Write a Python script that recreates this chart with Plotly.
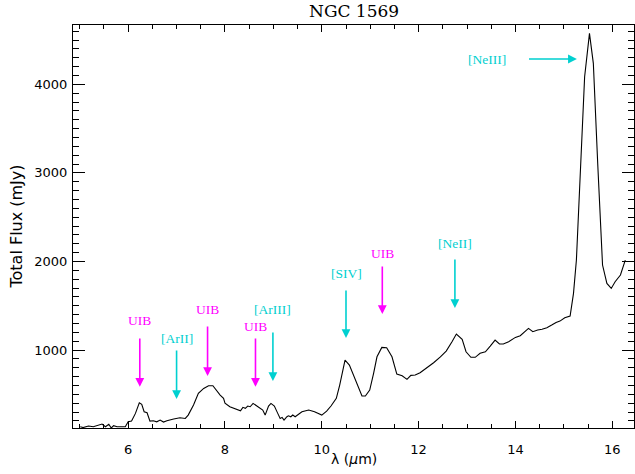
import plotly.graph_objects as go

# Spectrum (wavelength in micron, flux in mJy)
wavelength = [5.01, 5.07, 5.18, 5.28, 5.46, 5.53, 5.60, 5.65, 5.70, 5.77, 5.94, 6.00, 6.07, 6.15, 6.23,
              6.28, 6.33, 6.39, 6.45, 6.52, 6.59, 6.66, 6.73, 6.80, 6.94, 7.07, 7.18, 7.24, 7.35, 7.45,
              7.56, 7.66, 7.75, 7.87, 7.90, 7.97, 8.00, 8.10, 8.25, 8.32, 8.37, 8.42, 8.47, 8.52, 8.58,
              8.66, 8.73, 8.78, 8.83, 8.90, 8.95, 9.02, 9.09, 9.14, 9.18, 9.22, 9.28, 9.31, 9.36, 9.40,
              9.45, 9.49, 9.59, 9.73, 9.85, 10.00, 10.10, 10.19, 10.30, 10.37, 10.48, 10.57, 10.69, 10.83,
              10.90, 10.99, 11.07, 11.14, 11.24, 11.34, 11.45, 11.55, 11.66, 11.76, 11.84, 11.93, 12.03,
              12.17, 12.31, 12.45, 12.57, 12.69, 12.78, 12.90, 12.98, 13.08, 13.17, 13.27, 13.38, 13.48,
              13.58, 13.67, 13.75, 13.86, 14.00, 14.10, 14.18, 14.27, 14.36, 14.46, 14.55, 14.65, 14.75,
              14.84, 14.92, 15.02, 15.13, 15.20, 15.26, 15.34, 15.43, 15.53, 15.61, 15.70, 15.80, 15.89,
              15.98, 16.06, 16.17, 16.27]
flux = [134, 125, 142, 134, 165, 134, 162, 120, 147, 134, 134, 190, 198, 285, 405,
        387, 303, 292, 198, 202, 190, 210, 187, 202, 221, 235, 228, 266, 379, 511,
        567, 597, 597, 510, 492, 455, 400, 360, 323, 315, 353, 342, 368, 360, 398,
        368, 342, 323, 266, 368, 398, 368, 285, 228, 240, 210, 247, 258, 247, 266,
        247, 266, 303, 323, 303, 266, 311, 368, 455, 605, 887, 831, 661, 481,
        481, 549, 737, 924, 1030, 1026, 924, 729, 710, 669, 714, 718, 744,
        800, 857, 924, 989, 1094, 1181, 1121, 981, 918, 918, 963, 981, 1045,
        1113, 1068, 1068, 1094, 1143, 1162, 1196, 1245, 1207, 1226, 1234, 1252, 1282,
        1312, 1327, 1365, 1384, 1640, 2016, 3032, 4086, 4575, 4237, 3108, 1960, 1752,
        1696, 1771, 1847, 2016]

# Feature labels (vertical arrows)
feature_labels = ["UIB", "[ArII]", "UIB", "UIB", "[ArIII]", "[SIV]", "UIB", "[NeII]"]
feature_wavelength = [6.24, 7.0, 7.64, 8.63, 8.99, 10.5, 11.25, 12.75]
feature_kind = ["uib", "ion", "uib", "uib", "ion", "ion", "uib", "ion"]
arrow_tip = [586, 447, 706, 586, 650, 1135, 1406, 1474]
arrow_tail = [1147, 1011, 1282, 1147, 1215, 1689, 1960, 2039]
label_y = [1331, 1135, 1463, 1271, 1463, 1869, 2095, 2208]

# [NeIII] horizontal arrow
neiii_label = "[NeIII]"
neiii_tail_x = 14.25
neiii_tip_x = 15.27
neiii_y = 4286
neiii_label_x = 13.41

MAGENTA = "#ff00ff"
CYAN = "#00d0d0"
kind_color = {"uib": MAGENTA, "ion": CYAN}

fig = go.Figure()
fig.add_trace(go.Scatter(x=wavelength, y=flux, mode="lines",
                         line=dict(color="black", width=1.1), hoverinfo="skip"))

ann_font = dict(family="Liberation Serif, Times New Roman, serif", size=13.5)
annotations = []
for lab, wl, kind, tip, tail, ly in zip(feature_labels, feature_wavelength, feature_kind,
                                         arrow_tip, arrow_tail, label_y):
    c = kind_color[kind]
    annotations.append(dict(x=wl, y=tip, ax=wl, ay=tail, xref="x", yref="y", axref="x", ayref="y",
                            text="", showarrow=True, arrowhead=2, arrowsize=1.1, arrowwidth=1.6,
                            arrowcolor=c, standoff=0, startstandoff=0))
    annotations.append(dict(x=wl, y=ly, xref="x", yref="y", text=lab, showarrow=False,
                            font=dict(color=c, **ann_font), xanchor="center", yanchor="middle"))

annotations.append(dict(x=neiii_tip_x, y=neiii_y, ax=neiii_tail_x, ay=neiii_y, xref="x", yref="y",
                        axref="x", ayref="y", text="", showarrow=True, arrowhead=2, arrowsize=1.1,
                        arrowwidth=1.6, arrowcolor=CYAN, standoff=0, startstandoff=0))
annotations.append(dict(x=neiii_label_x, y=neiii_y, xref="x", yref="y", text=neiii_label,
                        showarrow=False, font=dict(color=CYAN, **ann_font),
                        xanchor="center", yanchor="middle"))

# Titles
annotations.append(dict(x=0.5, y=1, xref="paper", yref="paper", text="NGC 1569", showarrow=False,
                        xanchor="center", yanchor="bottom", yshift=2,
                        font=dict(family="DejaVu Serif, serif", size=17, color="black")))
annotations.append(dict(x=0.5, y=0, xref="paper", yref="paper", text="λ (<i>µ</i>m)", showarrow=False,
                        xanchor="center", yanchor="top", yshift=-21,
                        font=dict(family="DejaVu Sans, sans-serif", size=14, color="black")))
annotations.append(dict(x=0, y=0.5, xref="paper", yref="paper", text="Total Flux (mJy)", showarrow=False,
                        xanchor="center", yanchor="middle", xshift=-57, textangle=-90,
                        font=dict(family="DejaVu Sans, sans-serif", size=16, color="black")))

tick_font = dict(family="DejaVu Sans, sans-serif", size=13, color="black")
fig.update_layout(
    width=635, height=474,
    margin=dict(l=73, r=1, t=25, b=46),
    paper_bgcolor="white", plot_bgcolor="white",
    showlegend=False,
    annotations=annotations,
    xaxis=dict(range=[4.86, 16.45], showgrid=False, zeroline=False, showline=True, linecolor="black",
               linewidth=1, mirror="ticks", ticks="inside", ticklen=7, tickcolor="black",
               tickvals=[6, 8, 10, 12, 14, 16], ticktext=["6", "8", "10", "12", "14", "16"],
               minor=dict(tickvals=[5, 5.5, 6.5, 7, 7.5, 8.5, 9, 9.5, 10.5, 11, 11.5, 12.5, 13, 13.5,
                                    14.5, 15, 15.5, 16.5], ticks="inside", ticklen=4, tickcolor="black"),
               tickfont=tick_font, ticklabelstandoff=9),
    yaxis=dict(range=[120, 4670], showgrid=False, zeroline=False, showline=True, linecolor="black",
               linewidth=1, mirror="ticks", ticks="inside", ticklen=12, tickcolor="black",
               tickvals=[1000, 2000, 3000, 4000], ticktext=["1000", "2000", "3000", "4000"],
               minor=dict(dtick=100, tick0=0, ticks="inside", ticklen=6, tickcolor="black"),
               tickfont=tick_font, ticklabelstandoff=2),
)

fig.write_html("out.html", config={"displayModeBar": False},
               post_script="document.body.style.margin='0';document.body.style.overflow='hidden';")
